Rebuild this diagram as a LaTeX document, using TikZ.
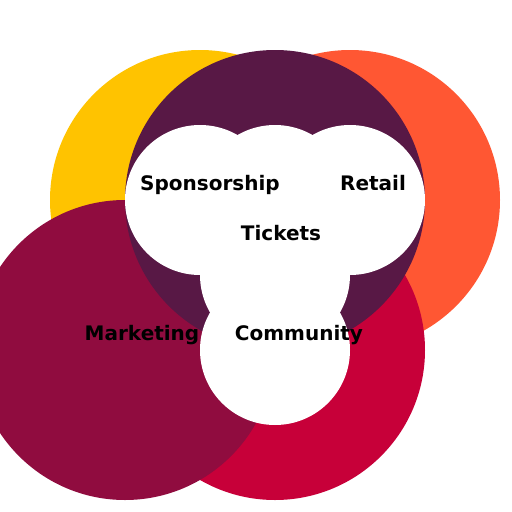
\documentclass[tikz,border=0pt]{standalone}
\usepackage{fontspec}
\setmainfont{DejaVu Sans}
\definecolor{cYellow}{HTML}{FFC300}
\definecolor{cOrange}{HTML}{FF5733}
\definecolor{cPurple}{HTML}{581845}
\definecolor{cMaroon}{HTML}{900C3F}
\definecolor{cCrimson}{HTML}{C70039}
\begin{document}
\begin{tikzpicture}[x=1pt,y=-1pt,
  lbl/.style={font=\bfseries\fontsize{20}{24}\selectfont,anchor=base,inner sep=0pt}]
\useasboundingbox (0,0) rectangle (512,512);
\clip (0,0) rectangle (512,512);
\coordinate (C0) at (200,200);
\coordinate (C1) at (350,200);
\coordinate (C2) at (275,350);
\coordinate (C3) at (125,350);
\coordinate (C4) at (275,200);
\fill[color=cYellow] (C0) circle[radius=150];
\fill[color=cOrange] (C1) circle[radius=150];
\fill[color=cCrimson] (C2) circle[radius=150];
\fill[color=cMaroon] (C3) circle[radius=150];
\fill[color=cPurple] (C4) circle[radius=150];
\foreach \p in {(200,200),(275,200),(350,200),(275,275),(275,350)}{
\fill[color=white] \p circle[radius=75];
}
\node[lbl] (spons) at (210,190.5) {Sponsorship};
\node[lbl] (retail) at (373,190.5) {Retail};
\node[lbl] (tickets) at (281,240.5) {Tickets};
\node[lbl] (market) at (142,340.5) {Marketing};
\node[lbl] (commun) at (299,340.5) {Community};
\end{tikzpicture}
\end{document}
